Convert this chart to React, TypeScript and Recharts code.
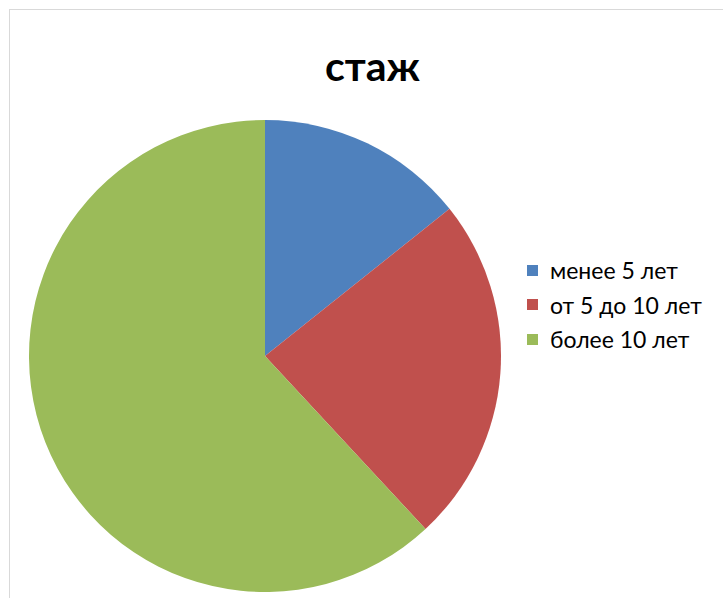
import React from "react";
import { PieChart, Pie, Cell, Legend } from "recharts";

const categories = ["менее 5 лет", "от 5 до 10 лет", "более 10 лет"];
const values = [3, 5, 13];
const colors = ["#4F81BD", "#C0504D", "#9BBB59"];

const data = categories.map((name, i) => ({ name, value: values[i] }));

const font = "Lato, 'Noto Sans', sans-serif";

function LegendBox() {
  return (
    <div style={{ fontFamily: font }}>
      {categories.map((c, i) => (
        <div
          key={c}
          style={{ display: "flex", alignItems: "center", height: 34.5 }}
        >
          <span
            style={{
              width: 11,
              height: 11,
              background: colors[i],
              marginRight: 12,
              display: "inline-block",
            }}
          />
          <span style={{ fontSize: 23, color: "#000", whiteSpace: "nowrap" }}>{c}</span>
        </div>
      ))}
    </div>
  );
}

export default function App() {
  return (
    <div
      style={{
        position: "absolute",
        left: 0,
        top: 0,
        width: 723,
        height: 598,
        overflow: "hidden",
        background: "#fff",
      }}
    >
      <div
        style={{
          position: "absolute",
          left: 9,
          top: 9,
          width: 740,
          height: 640,
          border: "1px solid #d9d9d9",
        }}
      />
      <div
        style={{
          position: "absolute",
          left: 0,
          top: 41,
          width: 745,
          textAlign: "center",
          fontFamily: font,
          fontWeight: 700,
          fontSize: 41,
          color: "#000",
        }}
      >
        стаж
      </div>
      <div style={{ position: "absolute", left: 0, top: 0 }}>
        <PieChart
          width={723}
          height={598}
          margin={{ top: 0, right: 0, bottom: 0, left: 0 }}
        >
          <Pie
            data={data}
            dataKey="value"
            nameKey="name"
            cx={265}
            cy={356}
            outerRadius={236}
            startAngle={90}
            endAngle={-270}
            stroke="none"
            isAnimationActive={false}
          >
            {data.map((d, i) => (
              <Cell key={d.name} fill={colors[i]} />
            ))}
          </Pie>
          <Legend
            content={() => <LegendBox />}
            wrapperStyle={{ left: 527, top: 253, width: 200 }}
          />
        </PieChart>
      </div>
    </div>
  );
}
